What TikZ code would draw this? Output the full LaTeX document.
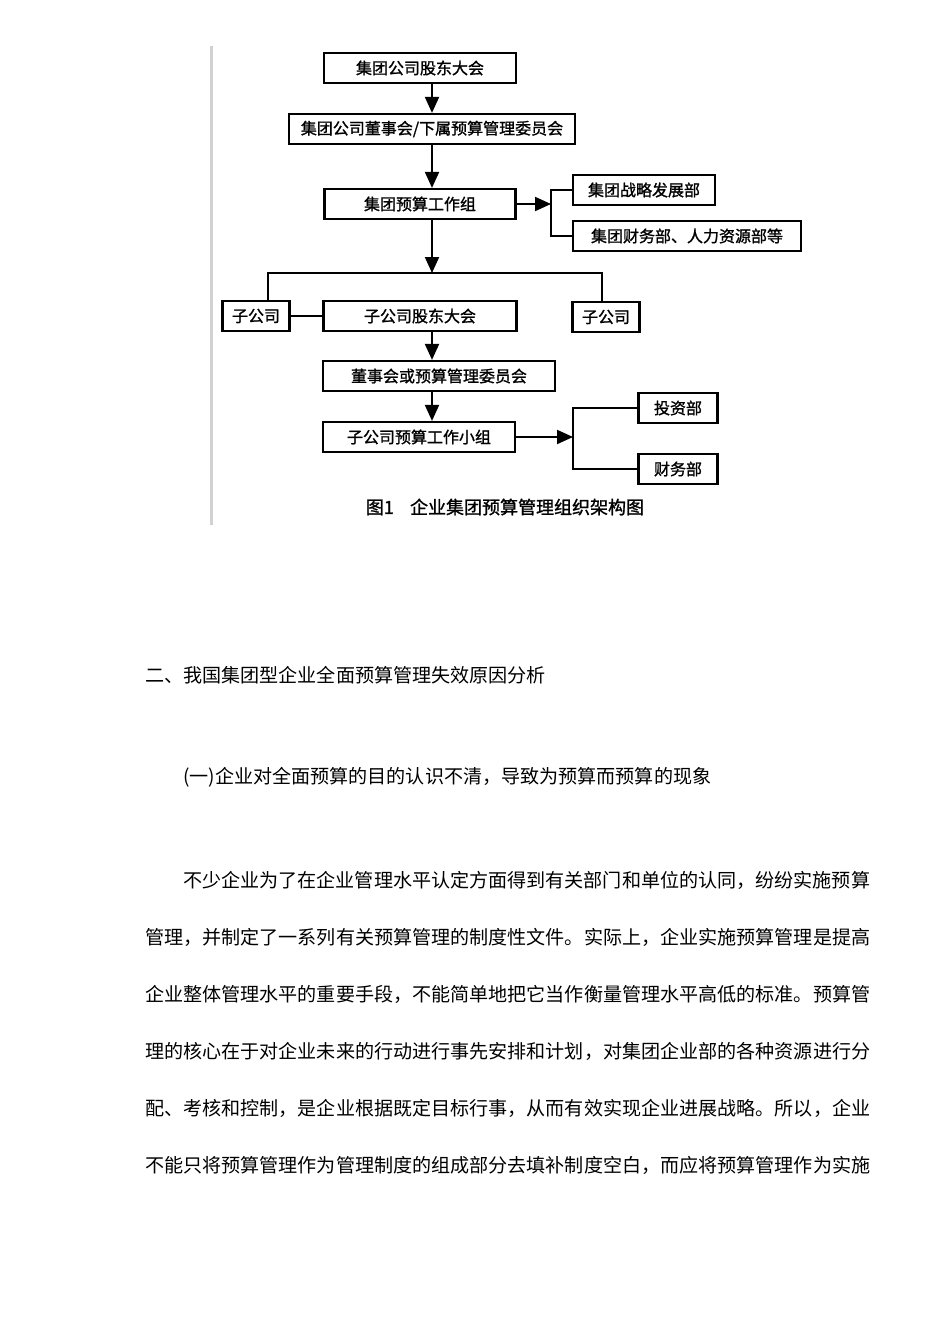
\documentclass[tikz,border=0pt]{standalone}
\usepackage{fontspec}
\newfontfamily\cjk{Noto Sans CJK SC}
\newfontfamily\cjkbold[FakeBold=1.2]{Noto Sans CJK SC}
\usetikzlibrary{arrows.meta, positioning}

\begin{document}
\begin{tikzpicture}[x=1pt, y=-1pt,
	box/.style={draw, line width=2.2pt, inner sep=0pt, minimum height=30pt,
		font=\cjkbold\fontsize{16pt}{16pt}\selectfont},
	body/.style={anchor=west, inner sep=0pt, font=\cjk\fontsize{19.08pt}{19.08pt}\selectfont},
	arr/.style={line width=2pt, -{Triangle[length=16pt,width=14pt]}},
	ln/.style={line width=2pt}]
		\useasboundingbox (0,0) rectangle (950,1344);
		\fill[white] (0,0) rectangle (950,1344);
		\fill[black!18] (209.5,46) rectangle (212.5,525);
		
		% group level
		\node[box, minimum width=192pt] (g1) at (420,68) {集团公司股东大会};
		\node[box, minimum width=286pt] (g2) at (432,129) {集团公司董事会/下属预算管理委员会};
		\node[box, minimum width=191pt] (g3) at (420,204) {集团预算工作组};
		\node[box, minimum width=142pt] (d1) at (644,190) {集团战略发展部};
		\node[box, minimum width=228pt] (d2) at (687,236) {集团财务部、人力资源部等};
		
		% subsidiaries
		\node[box, minimum width=67pt] (s1) at (256,316) {子公司};
		\node[box, minimum width=193pt] (s0) at (420,316) {子公司股东大会};
		\node[box, minimum width=67pt] (s2) at (606,317) {子公司};
		\node[box, minimum width=232pt] (s3) at (439,376) {董事会或预算管理委员会};
		\node[box, minimum width=192pt] (s4) at (419,437) {子公司预算工作小组};
		\node[box, minimum width=79pt] (t1) at (678,408) {投资部};
		\node[box, minimum width=79pt] (t2) at (678,469) {财务部};
		
		\node[inner sep=0pt, font=\cjkbold\fontsize{18pt}{18pt}\selectfont] (cap) at (505,507)
			{图1\hspace{0.9em}企业集团预算管理组织架构图};
		
		\coordinate (sp) at (432,273);
		\coordinate (jl) at (268,273);
		\coordinate (jr) at (602,273);
		\coordinate (b1) at (551,204);
		\coordinate (b2) at (573,437);
		
		\path[arr] (g1.south -| g2) edge (g2.north)
		(g2.south) edge (g3.north -| g2)
		(g3.south -| g2) edge (sp)
		(s0.south -| g2) edge (s3.north -| g2)
		(s3.south -| g2) edge (s4.north -| g2)
		(g3.east) edge (b1)
		(s4.east) edge (b2);
		
		\draw[ln] (jl |- s1.north) -- (jl) -- (jr) -- (jr |- s2.north);
		\draw[ln] (s1.east) -- (s0.west |- s1.east);
		\draw[ln] (d1.west) -| (b1) |- (d2.west);
		\draw[ln] (t1.west) -| (b2) |- (t2.west);
		
		% text below the figure
		\node[body] (h1) at (145,675) {二、我国集团型企业全面预算管理失效原因分析};
		\node[body] (h2) at (183,777) {(一)企业对全面预算的目的认识不清，导致为预算而预算的现象};
		\node[body] (p1) at (183,880) {不少企业为了在企业管理水平认定方面得到有关部门和单位的认同，纷纷实施预算};
		\node[body] (p2) at (145,937) {管理，并制定了一系列有关预算管理的制度性文件。实际上，企业实施预算管理是提高};
		\node[body] (p3) at (145,994) {企业整体管理水平的重要手段，不能简单地把它当作衡量管理水平高低的标准。预算管};
		\node[body] (p4) at (145,1051) {理的核心在于对企业未来的行动进行事先安排和计划，对集团企业部的各种资源进行分};
		\node[body] (p5) at (145,1108) {配、考核和控制，是企业根据既定目标行事，从而有效实现企业进展战略。所以，企业};
		\node[body] (p6) at (145,1165) {不能只将预算管理作为管理制度的组成部分去填补制度空白，而应将预算管理作为实施};
\end{tikzpicture}
\end{document}
